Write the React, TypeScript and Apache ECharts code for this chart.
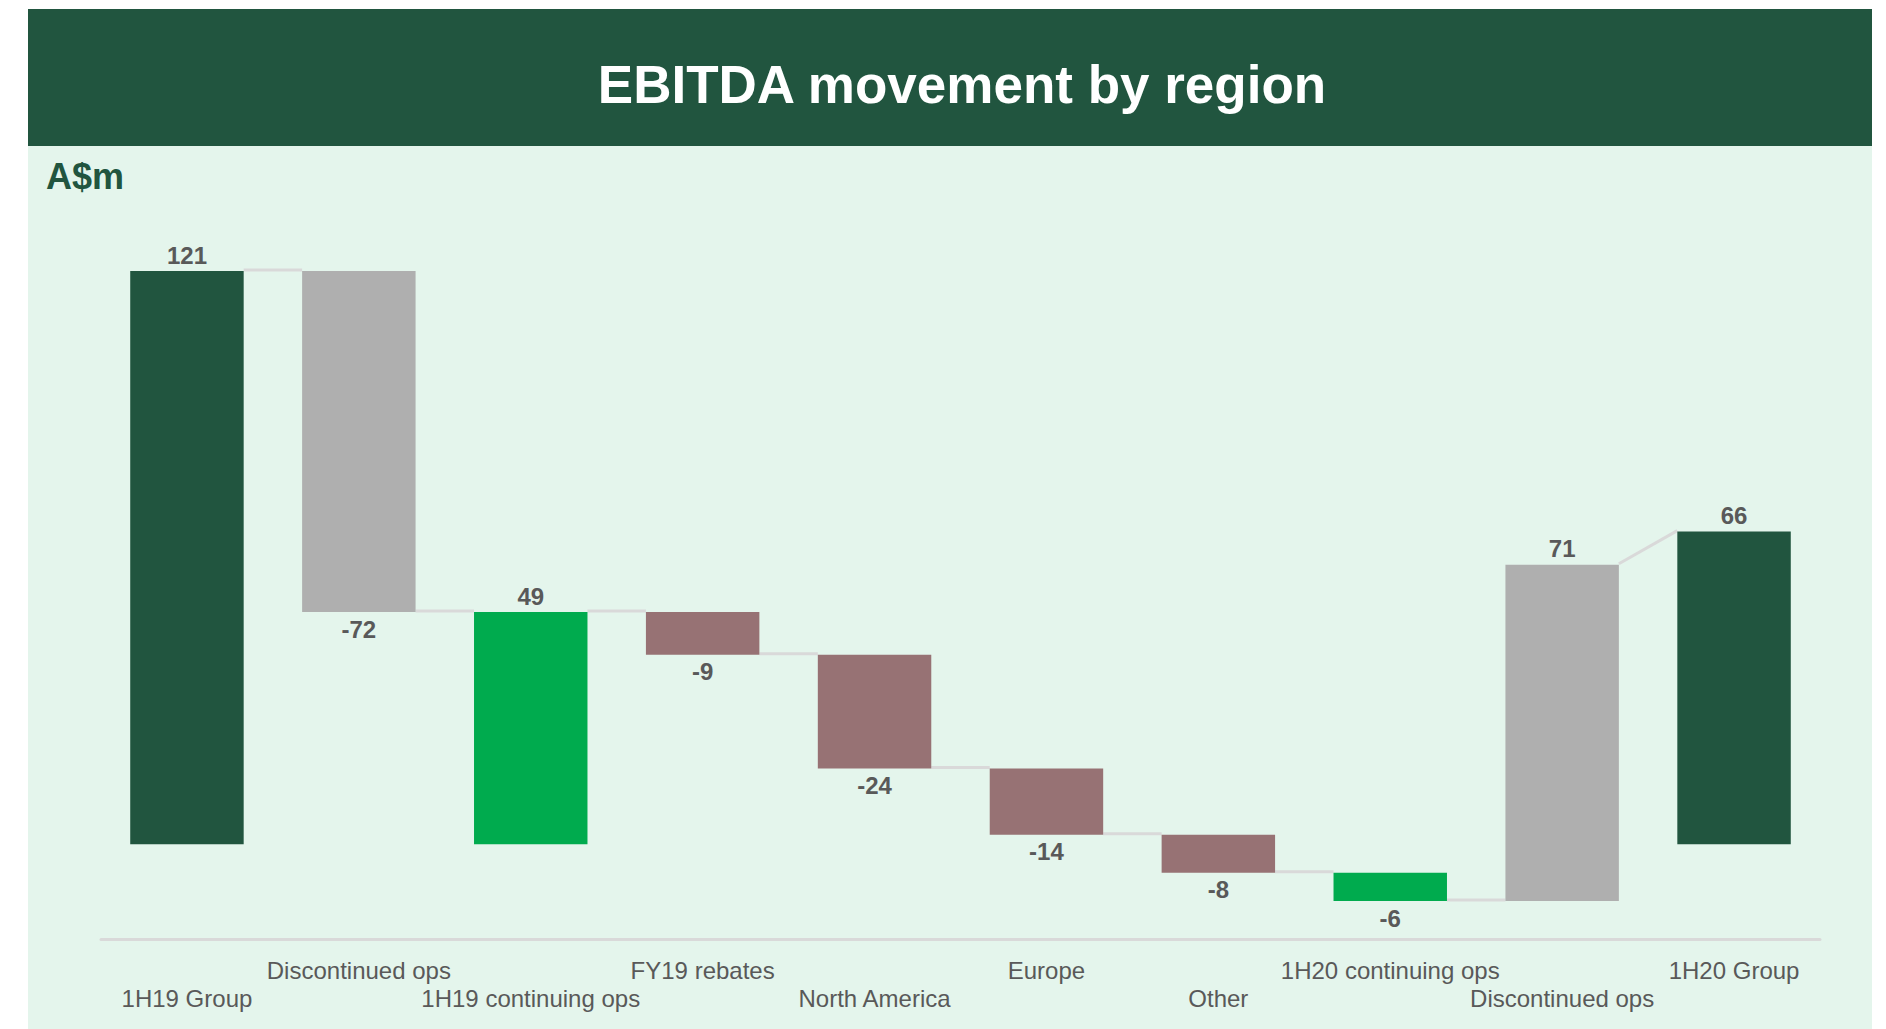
import React, { useEffect, useRef } from "react";
import * as echarts from "echarts";

const categories = [
  "1H19 Group",
  "Discontinued ops",
  "1H19 continuing ops",
  "FY19 rebates",
  "North America",
  "Europe",
  "Other",
  "1H20 continuing ops",
  "Discontinued ops",
  "1H20 Group",
];
const labelValues = [121, -72, 49, -9, -24, -14, -8, -6, 71, 66];
const barBottom = [0, 49, 0, 40, 16, 2, -6, -12, -12, 0];
const barTop = [121, 121, 49, 49, 40, 16, 2, -6, 59, 66];
const barKinds = [
  "total",
  "discontinued",
  "subtotal",
  "decrease",
  "decrease",
  "decrease",
  "decrease",
  "subtotal",
  "discontinued",
  "total",
];
const connectorFrom = [121, 49, 49, 40, 16, 2, -6, -12, 59];
const connectorTo = [121, 49, 49, 40, 16, 2, -6, -12, 66];

const COLORS: Record<string, string> = {
  total: "#21553F",
  discontinued: "#AFAFAF",
  subtotal: "#00AB4E",
  decrease: "#977274",
};
const FONT = '"Liberation Sans", Arial, sans-serif';
const BAR_RATIO = 0.66;

export default function App() {
  const ref = useRef<HTMLDivElement>(null);
  useEffect(() => {
    if (!ref.current) return;
    const chart = echarts.init(ref.current, undefined, { renderer: "svg" });
    const barData = categories.map((c, i) => [i, barBottom[i], barTop[i], labelValues[i]]);
    const connData = connectorFrom.map((f, k) => [k, f, connectorTo[k]]);
    chart.setOption({
      animation: false,
      backgroundColor: "#ffffff",
      graphic: [
        {
          type: "rect",
          z: -10,
          silent: true,
          shape: { x: 28, y: 9, width: 1844, height: 137 },
          style: { fill: "#21553F" },
        },
        {
          type: "rect",
          z: -10,
          silent: true,
          shape: { x: 28, y: 146, width: 1844, height: 883 },
          style: { fill: "#E4F5EC" },
        },
        {
          type: "text",
          z: 10,
          x: 962,
          y: 84,
          style: {
            text: "EBITDA movement by region",
            fill: "#ffffff",
            font: `bold 53px ${FONT}`,
            align: "center",
            verticalAlign: "middle",
          },
        },
        {
          type: "text",
          z: 10,
          x: 46,
          y: 176,
          style: {
            text: "A$m",
            fill: "#21553F",
            font: `bold 36px ${FONT}`,
            align: "left",
            verticalAlign: "middle",
          },
        },
      ],
      grid: { left: 101, right: 66, top: 181, bottom: 90, containLabel: false },
      xAxis: {
        type: "category",
        data: categories,
        axisLine: { show: true, onZero: false, lineStyle: { color: "#D9D9D9", width: 3 } },
        axisTick: { show: false },
        splitLine: { show: false },
        axisLabel: {
          interval: 0,
          hideOverlap: false,
          color: "#595959",
          fontFamily: FONT,
          fontSize: 24,
          lineHeight: 28,
          margin: 17,
          formatter: (v: string, idx: number) => (idx % 2 === 0 ? "\n" + v : v),
        },
      },
      yAxis: {
        type: "value",
        min: -20,
        max: 140,
        interval: 20,
        show: false,
        splitLine: { show: false },
      },
      series: [
        {
          type: "custom",
          z: 1,
          data: connData,
          encode: { x: 0, y: [1, 2] },
          renderItem: (params: any, api: any) => {
            const k = api.value(0);
            const p1 = api.coord([k, api.value(1)]);
            const p2 = api.coord([k + 1, api.value(2)]);
            const bw = api.size([1, 0])[0] * BAR_RATIO;
            return {
              type: "line",
              shape: { x1: p1[0] + bw / 2, y1: p1[1] - 1, x2: p2[0] - bw / 2, y2: p2[1] - 1 },
              style: { stroke: "#D9D9D9", lineWidth: 3 },
            };
          },
        },
        {
          type: "custom",
          z: 2,
          data: barData,
          encode: { x: 0, y: [1, 2] },
          renderItem: (params: any, api: any) => {
            const i = api.value(0);
            const lo = api.coord([i, api.value(1)]);
            const hi = api.coord([i, api.value(2)]);
            const bw = api.size([1, 0])[0] * BAR_RATIO;
            const v = api.value(3);
            const kind = barKinds[params.dataIndex];
            const positive = v >= 0;
            return {
              type: "group",
              children: [
                {
                  type: "rect",
                  shape: { x: lo[0] - bw / 2, y: hi[1], width: bw, height: lo[1] - hi[1] },
                  style: { fill: COLORS[kind] },
                },
                {
                  type: "text",
                  x: lo[0],
                  y: positive ? hi[1] - 4 : lo[1] + 5,
                  style: {
                    text: String(v),
                    fill: "#595959",
                    font: `bold 24px ${FONT}`,
                    align: "center",
                    verticalAlign: positive ? "bottom" : "top",
                  },
                },
              ],
            };
          },
        },
      ],
    });
    return () => chart.dispose();
  }, []);
  return (
    <div
      ref={ref}
      style={{ position: "fixed", left: 0, top: 0, width: 1886, height: 1029 }}
    />
  );
}
